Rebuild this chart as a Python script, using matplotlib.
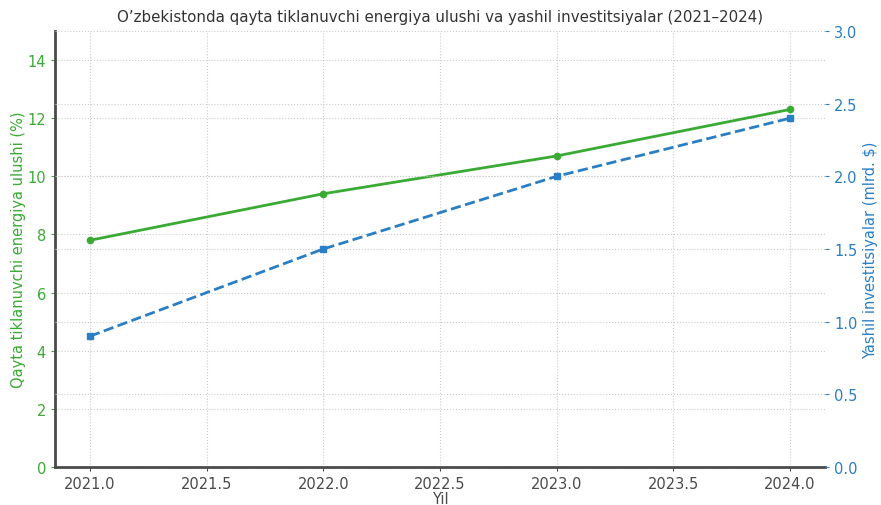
import matplotlib
matplotlib.use("Agg")
import matplotlib.pyplot as plt

years = [2021, 2022, 2023, 2024]
renewable_share = [7.8, 9.4, 10.7, 12.3]
green_invest = [0.9, 1.5, 2.0, 2.4]

GREEN = "#3aaa35"
BLUE = "#2a7fc4"
GRAY = "#4a4a4a"

fig = plt.figure(figsize=(8.81, 5.06), dpi=100)
ax = fig.add_axes([0.0624, 0.0751, 0.8740, 0.8617])
ax2 = ax.twinx()

ax.plot(years, renewable_share, color=GREEN, marker="o", markersize=4.5, linewidth=2, zorder=3)
ax2.plot(years, green_invest, color=BLUE, marker="s", markersize=4.5, linewidth=2, linestyle="--", zorder=3)

ax.set_ylim(0, 15)
ax2.set_ylim(0, 3.0)
ax.set_xlim(2020.85, 2024.15)
ax.set_xticks([2021.0, 2021.5, 2022.0, 2022.5, 2023.0, 2023.5, 2024.0])
ax.set_xticklabels(["2021.0", "2021.5", "2022.0", "2022.5", "2023.0", "2023.5", "2024.0"])
ax.set_yticks([0, 2, 4, 6, 8, 10, 12, 14])
ax2.set_yticks([0.0, 0.5, 1.0, 1.5, 2.0, 2.5, 3.0])
ax2.set_yticklabels(["0.0", "0.5", "1.0", "1.5", "2.0", "2.5", "3.0"])

ax.grid(True, linestyle=":", color="#cccccc", linewidth=0.8)
ax2.grid(True, axis="y", linestyle=":", color="#cccccc", linewidth=0.8)

for a in (ax, ax2):
    a.spines["top"].set_visible(False)
    a.spines["right"].set_visible(False)
ax2.spines["left"].set_visible(False)
ax2.spines["bottom"].set_visible(False)
ax.spines["left"].set_color(GRAY)
ax.spines["left"].set_linewidth(2)
ax.spines["bottom"].set_color(GRAY)
ax.spines["bottom"].set_linewidth(2)

ax.tick_params(axis="y", colors=GREEN, labelsize=10.5, length=3)
ax.tick_params(axis="x", colors=GRAY, labelsize=10.5, length=3)
ax2.tick_params(axis="y", colors=BLUE, labelsize=10.5, length=3)
for t in ax.get_yticklines():
    t.set_color(GRAY)
for t in ax2.get_yticklines():
    t.set_color(GRAY)

ax.set_ylabel("Qayta tiklanuvchi energiya ulushi (%)", color=GREEN, fontsize=10.5, labelpad=1)
ax2.set_ylabel("Yashil investitsiyalar (mlrd. $)", color=BLUE, fontsize=10.5, labelpad=4)
ax.set_xlabel("Yil", color=GRAY, fontsize=10.5, labelpad=0)
ax.set_title("O\u2019zbekistonda qayta tiklanuvchi energiya ulushi va yashil investitsiyalar (2021\u20132024)",
             color="#333333", fontsize=10.8, pad=7)

fig.savefig("out.png", dpi=100)
